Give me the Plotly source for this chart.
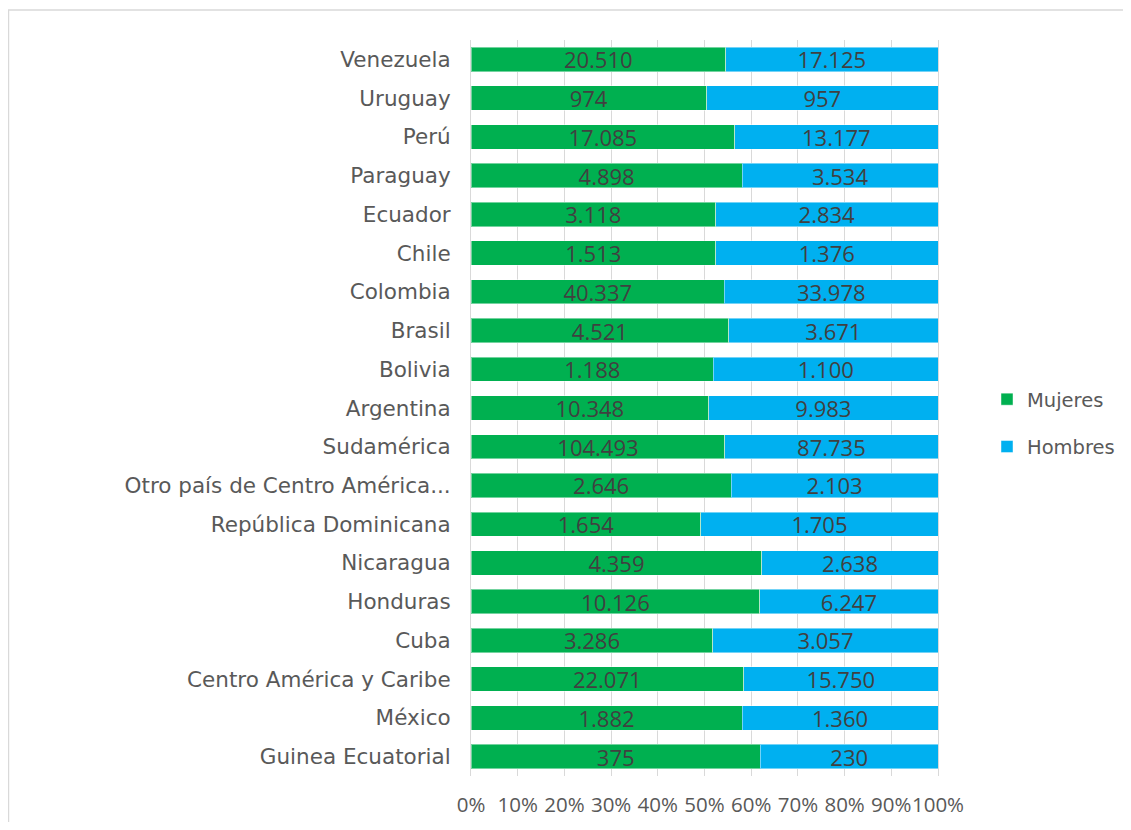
import plotly.graph_objects as go

categories = ["Venezuela", "Uruguay", "Perú", "Paraguay", "Ecuador", "Chile", "Colombia",
              "Brasil", "Bolivia", "Argentina", "Sudamérica", "Otro país de Centro América...",
              "República Dominicana", "Nicaragua", "Honduras", "Cuba",
              "Centro América y Caribe", "México", "Guinea Ecuatorial"]
mujeres = [20510, 974, 17085, 4898, 3118, 1513, 40337, 4521, 1188, 10348, 104493,
           2646, 1654, 4359, 10126, 3286, 22071, 1882, 375]
hombres = [17125, 957, 13177, 3534, 2834, 1376, 33978, 3671, 1100, 9983, 87735,
           2103, 1705, 2638, 6247, 3057, 15750, 1360, 230]
tick_vals = [0, 10, 20, 30, 40, 50, 60, 70, 80, 90, 100]
tick_labels = ["0%", "10%", "20%", "30%", "40%", "50%", "60%", "70%", "80%", "90%", "100%"]

# page has an 8px body margin; figure is sized to fit the window
OFF = 8
W, H = 1131 - 2 * OFF, 830 - 2 * OFF
PX0, PX1 = 471 - OFF, 938 - OFF      # plot area left/right (figure px)
PY0, PY1 = 40 - OFF, 776 - OFF       # plot area top/bottom (figure px)
L, R, T, B = PX0, W - PX1, PY0, H - PY1
pw, ph = PX1 - PX0, PY1 - PY0

fig = go.Figure()
for name, vals, color, grp in [("Mujeres", mujeres, "#00B050", "g1"),
                               ("Hombres", hombres, "#00B0F0", "g2")]:
    fig.add_trace(go.Bar(
        name=name, y=categories, x=vals, orientation="h",
        customdata=vals, texttemplate="%{customdata:,d}",
        textposition="inside", insidetextanchor="middle", textangle=0,
        constraintext="none",
        insidetextfont=dict(family="Open Sans", size=22, color="#404040"),
        marker=dict(color=color, line=dict(color="rgba(255,255,255,0.45)", width=1)),
        legendgroup=grp, hoverinfo="skip",
    ))

fig.update_layout(
    width=W, height=H,
    margin=dict(l=L, r=R, t=T, b=B, autoexpand=False),
    barmode="stack", barnorm="percent", bargap=0.37,
    separators=",.",
    plot_bgcolor="white", paper_bgcolor="white",
    legend=dict(x=(987 - OFF - PX0) / pw, y=(PY1 - (423 - OFF)) / ph, xanchor="left", yanchor="middle",
                font=dict(family="DejaVu Sans", size=19.5, color="#595959"),
                traceorder="grouped", tracegroupgap=19, bgcolor="rgba(0,0,0,0)"),
    xaxis=dict(range=[0, 100], tickmode="array", tickvals=tick_vals, ticktext=tick_labels,
               tickangle=0,
               showgrid=True, gridcolor="#D9D9D9", gridwidth=1,
               zeroline=False, showline=False, ticks="",
               ticklabelstandoff=14,
               tickfont=dict(family="Open Sans", size=20.5, color="#595959"), fixedrange=True),
    yaxis=dict(autorange="reversed", showline=True, mirror=True, linecolor="#D9D9D9", linewidth=1,
               showgrid=False, ticks="", ticklabelstandoff=15,
               tickfont=dict(family="DejaVu Sans", size=21.5, color="#595959")),
    shapes=[dict(type="rect", xref="paper", yref="paper",
                 x0=(8 - OFF - PX0) / pw + 0.001, x1=1.6, y0=-0.2, y1=(PY1 - (10 - OFF)) / ph,
                 line=dict(color="#D9D9D9", width=1.5), fillcolor="rgba(0,0,0,0)", layer="below")],
)

fig.write_html("out.html")
